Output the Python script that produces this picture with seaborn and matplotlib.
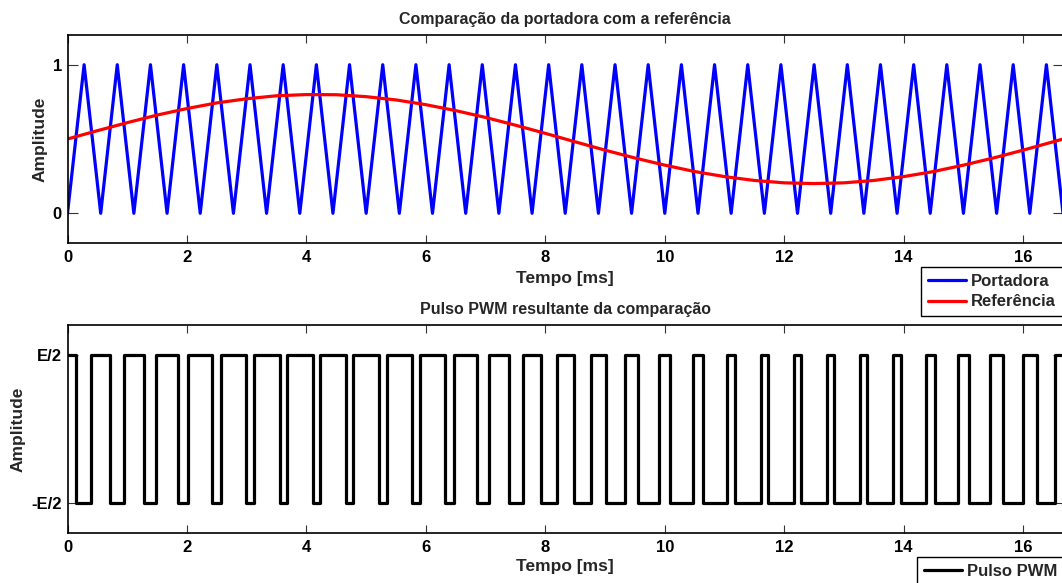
import numpy as np
import pandas as pd
import matplotlib
matplotlib.use("Agg")
import matplotlib.pyplot as plt
import seaborn as sns

# ---------------- data ----------------
# carrier (triangle) vertices: time [ms] and amplitude
carrier_t = [0.000, 0.278, 0.556, 0.833, 1.111, 1.389, 1.667, 1.944, 2.222, 2.500,
             2.778, 3.056, 3.333, 3.611, 3.889, 4.167, 4.444, 4.722, 5.000, 5.278,
             5.556, 5.833, 6.111, 6.389, 6.667, 6.944, 7.222, 7.500, 7.778, 8.056,
             8.333, 8.611, 8.889, 9.167, 9.444, 9.722, 10.000, 10.278, 10.556, 10.833,
             11.111, 11.389, 11.667, 11.944, 12.222, 12.500, 12.778, 13.056, 13.333, 13.611,
             13.889, 14.167, 14.444, 14.722, 15.000, 15.278, 15.556, 15.833, 16.111, 16.389,
             16.667]
carrier_v = [0, 1, 0, 1, 0, 1, 0, 1, 0, 1,
             0, 1, 0, 1, 0, 1, 0, 1, 0, 1,
             0, 1, 0, 1, 0, 1, 0, 1, 0, 1,
             0, 1, 0, 1, 0, 1, 0, 1, 0, 1,
             0, 1, 0, 1, 0, 1, 0, 1, 0, 1,
             0, 1, 0, 1, 0, 1, 0, 1, 0, 1,
             0]

# reference (sinusoid) samples
ref_t = [0.0, 0.5, 1.0, 1.5, 2.0, 2.5, 3.0, 3.5, 4.0, 4.5, 5.0, 5.5, 6.0, 6.5, 7.0,
         7.5, 8.0, 8.5, 9.0, 9.5, 10.0, 10.5, 11.0, 11.5, 12.0, 12.5, 13.0, 13.5,
         14.0, 14.5, 15.0, 15.5, 16.0, 16.5, 16.667]
ref_v = [0.500, 0.556, 0.610, 0.661, 0.705, 0.743, 0.771, 0.791, 0.799, 0.798,
         0.785, 0.763, 0.731, 0.691, 0.645, 0.593, 0.538, 0.481, 0.425, 0.372,
         0.324, 0.281, 0.247, 0.221, 0.205, 0.200, 0.205, 0.221, 0.247, 0.281,
         0.324, 0.372, 0.425, 0.481, 0.500]

# PWM switching instants [ms] (starts high at t = 0)
pwm_fall = [0.139, 0.712, 1.284, 1.855, 2.423, 2.989, 3.551, 4.111, 4.666, 5.218,
            5.767, 6.312, 6.855, 7.395, 7.934, 8.472, 9.011, 9.549, 10.090, 10.633,
            11.178, 11.727, 12.278, 12.834, 13.393, 13.956, 14.521, 15.090, 15.661, 16.233]
pwm_rise = [0.399, 0.938, 1.479, 2.021, 2.567, 3.115, 3.667, 4.222, 4.782, 5.345,
            5.910, 6.479, 7.049, 7.622, 8.194, 8.767, 9.339, 9.910, 10.479, 11.044,
            11.607, 12.166, 12.722, 13.273, 13.822, 14.367, 14.910, 15.451, 15.989, 16.528]
t_end = 16.667

x_ticks = [0, 2, 4, 6, 8, 10, 12, 14, 16]
pwm_levels = [-1, 1]
pwm_labels = ["-E/2", "E/2"]

# ---------------- build PWM trace from the switching instants ----------------
pwm_x, pwm_y = [0.0], [1]
level = 1
for t in sorted(pwm_fall + pwm_rise):
    pwm_x += [t, t]
    pwm_y += [level, -level]
    level = -level
pwm_x.append(t_end)
pwm_y.append(level)

# ---------------- style ----------------
sns.set_theme(style="ticks")
plt.rcParams["font.family"] = ["Liberation Sans", "DejaVu Sans"]
plt.rcParams.update({
    "font.weight": "bold",
    "axes.titleweight": "bold",
    "axes.labelweight": "bold",
    "font.size": 12,
    "axes.titlesize": 11.5,
    "axes.labelsize": 12.5,
    "xtick.labelsize": 12,
    "ytick.labelsize": 12,
    "axes.linewidth": 1.2,
    "axes.edgecolor": "black",
    "xtick.direction": "in",
    "ytick.direction": "in",
    "xtick.top": True,
    "ytick.right": True,
    "xtick.major.size": 6,
    "ytick.major.size": 7,
    "xtick.major.width": 0.8,
    "ytick.major.width": 0.8,
    "xtick.color": "#333333",
    "ytick.color": "#333333",
    "xtick.labelcolor": "black",
    "ytick.labelcolor": "black",
})

W, H = 1062, 583
fig = plt.figure(figsize=(W / 100, H / 100), dpi=100)

left = 67.5 / W
right = 1063.0 / W
ax1 = fig.add_axes([left, 1 - 243 / H, right - left, (243 - 35) / H])
ax2 = fig.add_axes([left, 1 - 533 / H, right - left, (533 - 325) / H])

leg_kw = dict(loc="upper left", frameon=True, fancybox=False, edgecolor="black",
              framealpha=1, borderaxespad=0, handlelength=2.3, handletextpad=0.3,
              borderpad=0.4, labelspacing=0.35, prop={"weight": "bold", "size": 12})

# top panel
sns.lineplot(x=carrier_t, y=carrier_v, ax=ax1, color="#0000ff", linewidth=2.3,
             sort=False, estimator=None, label="Portadora")
sns.lineplot(x=ref_t, y=ref_v, ax=ax1, color="#ff0000", linewidth=2.3,
             sort=False, estimator=None, label="Referência")
ax1.set_xlim(0, t_end)
ax1.set_ylim(-0.2, 1.2)
ax1.set_xticks(x_ticks)
ax1.set_yticks([0, 1])
ax1.set_title("Comparação da portadora com a referência", pad=8)
ax1.set_xlabel("Tempo [ms]", labelpad=4)
ax1.set_ylabel("Amplitude", labelpad=4)
ax1.tick_params(axis="x", pad=5)
ax1.tick_params(axis="y", pad=4)
h1, l1 = ax1.get_legend_handles_labels()
ax1.get_legend().remove()
fig.legend(h1, l1, bbox_to_anchor=(921 / W, 1 - 267 / H), **leg_kw)

# bottom panel
sns.lineplot(x=pwm_x, y=pwm_y, ax=ax2, color="black", linewidth=2.3,
             sort=False, estimator=None, label="Pulso PWM")
ax2.set_xlim(0, t_end)
ax2.set_ylim(-1.4, 1.4)
ax2.set_xticks(x_ticks)
ax2.set_yticks(pwm_levels)
ax2.set_yticklabels(pwm_labels)
ax2.set_title("Pulso PWM resultante da comparação", pad=8)
ax2.set_xlabel("Tempo [ms]", labelpad=3)
ax2.set_ylabel("Amplitude", labelpad=4)
ax2.tick_params(axis="x", pad=5)
ax2.tick_params(axis="y", pad=4)
h2, l2 = ax2.get_legend_handles_labels()
ax2.get_legend().remove()
fig.legend(h2, l2, bbox_to_anchor=(917 / W, 1 - 557 / H), **leg_kw)

fig.savefig("out.png", dpi=100)
